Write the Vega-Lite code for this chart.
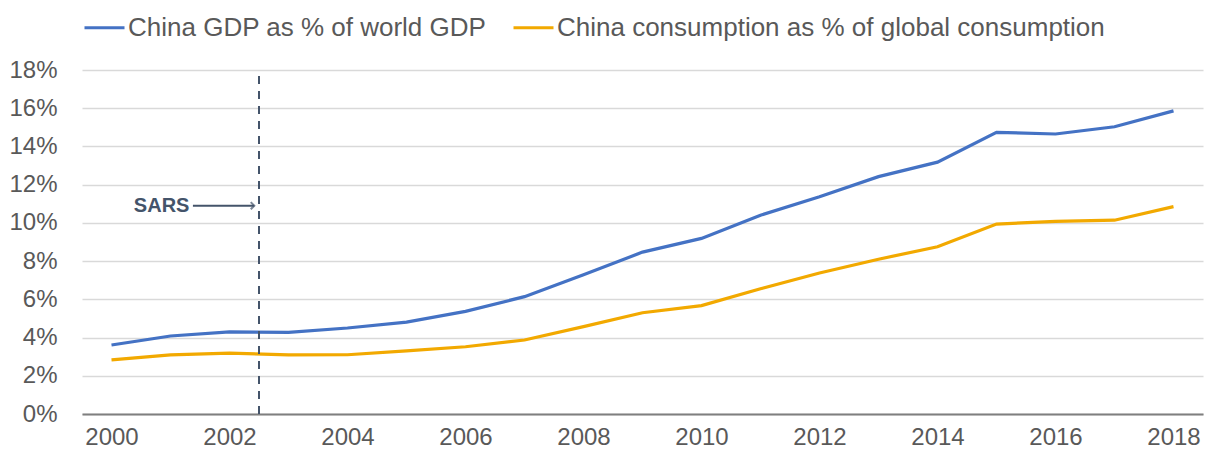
{
  "$schema": "https://vega.github.io/schema/vega-lite/v6.json",
  "width": 1121,
  "height": 344,
  "autosize": {"type": "none"},
  "padding": {"left": 82, "top": 70, "right": 11, "bottom": 44},
  "background": "white",
  "config": {
    "font": "Liberation Sans",
    "view": {"stroke": null}
  },
  "datasets": {
    "series": [
      {"year": 2000, "series": "China GDP as % of world GDP", "value": 3.61},
      {"year": 2001, "series": "China GDP as % of world GDP", "value": 4.08},
      {"year": 2002, "series": "China GDP as % of world GDP", "value": 4.3},
      {"year": 2003, "series": "China GDP as % of world GDP", "value": 4.27},
      {"year": 2004, "series": "China GDP as % of world GDP", "value": 4.5},
      {"year": 2005, "series": "China GDP as % of world GDP", "value": 4.81},
      {"year": 2006, "series": "China GDP as % of world GDP", "value": 5.37},
      {"year": 2007, "series": "China GDP as % of world GDP", "value": 6.14},
      {"year": 2008, "series": "China GDP as % of world GDP", "value": 7.28},
      {"year": 2009, "series": "China GDP as % of world GDP", "value": 8.47},
      {"year": 2010, "series": "China GDP as % of world GDP", "value": 9.19},
      {"year": 2011, "series": "China GDP as % of world GDP", "value": 10.4},
      {"year": 2012, "series": "China GDP as % of world GDP", "value": 11.37},
      {"year": 2013, "series": "China GDP as % of world GDP", "value": 12.42},
      {"year": 2014, "series": "China GDP as % of world GDP", "value": 13.18},
      {"year": 2015, "series": "China GDP as % of world GDP", "value": 14.74},
      {"year": 2016, "series": "China GDP as % of world GDP", "value": 14.65},
      {"year": 2017, "series": "China GDP as % of world GDP", "value": 15.03},
      {"year": 2018, "series": "China GDP as % of world GDP", "value": 15.86},
      {"year": 2000, "series": "China consumption as % of global consumption", "value": 2.83},
      {"year": 2001, "series": "China consumption as % of global consumption", "value": 3.09},
      {"year": 2002, "series": "China consumption as % of global consumption", "value": 3.19},
      {"year": 2003, "series": "China consumption as % of global consumption", "value": 3.09},
      {"year": 2004, "series": "China consumption as % of global consumption", "value": 3.1},
      {"year": 2005, "series": "China consumption as % of global consumption", "value": 3.3},
      {"year": 2006, "series": "China consumption as % of global consumption", "value": 3.52},
      {"year": 2007, "series": "China consumption as % of global consumption", "value": 3.87},
      {"year": 2008, "series": "China consumption as % of global consumption", "value": 4.57},
      {"year": 2009, "series": "China consumption as % of global consumption", "value": 5.3},
      {"year": 2010, "series": "China consumption as % of global consumption", "value": 5.67},
      {"year": 2011, "series": "China consumption as % of global consumption", "value": 6.55},
      {"year": 2012, "series": "China consumption as % of global consumption", "value": 7.38},
      {"year": 2013, "series": "China consumption as % of global consumption", "value": 8.1},
      {"year": 2014, "series": "China consumption as % of global consumption", "value": 8.75},
      {"year": 2015, "series": "China consumption as % of global consumption", "value": 9.94},
      {"year": 2016, "series": "China consumption as % of global consumption", "value": 10.08},
      {"year": 2017, "series": "China consumption as % of global consumption", "value": 10.14},
      {"year": 2018, "series": "China consumption as % of global consumption", "value": 10.85}
    ],
    "sars": [
      {"year": 2002.5, "value": 0, "value2": 18}
    ],
    "arrow": [
      {"year": 2001.38, "year2": 2002.42, "value": 10.9}
    ],
    "arrowhead": [
      {"year": 2002.42, "value": 10.9}
    ],
    "label": [
      {"year": 2000.85, "value": 10.9, "text": "SARS"}
    ]
  },
  "encoding": {
    "x": {
      "field": "year", "type": "quantitative",
      "scale": {"domain": [1999.5, 2018.5], "nice": false, "zero": false},
      "axis": {
        "title": null,
        "values": [2000, 2002, 2004, 2006, 2008, 2010, 2012, 2014, 2016, 2018],
        "format": "d",
        "grid": false,
        "ticks": false,
        "labelOverlap": false,
        "domainColor": "#7f7f7f",
        "domainWidth": 2,
        "labelFontSize": 24,
        "labelColor": "#595959",
        "labelPadding": 11
      }
    },
    "y": {
      "field": "value", "type": "quantitative",
      "scale": {"domain": [0, 18], "nice": false},
      "axis": {
        "title": null,
        "values": [0, 2, 4, 6, 8, 10, 12, 14, 16, 18],
        "tickCount": 10,
        "labelExpr": "datum.value + '%'",
        "labelOverlap": false,
        "labelBound": false,
        "domain": false,
        "ticks": false,
        "gridColor": "#d9d9d9",
        "gridWidth": 1.5,
        "labelFontSize": 24,
        "labelColor": "#595959",
        "labelPadding": 25
      }
    }
  },
  "layer": [
    {
      "data": {"name": "series"},
      "mark": {"type": "line", "strokeWidth": 3.2, "clip": true},
      "encoding": {
        "color": {
          "field": "series", "type": "nominal",
          "scale": {
            "domain": ["China GDP as % of world GDP", "China consumption as % of global consumption"],
            "range": ["#4472C4", "#F2A900"]
          },
          "legend": {
            "title": null,
            "orient": "none",
            "direction": "horizontal",
            "legendX": 1,
            "legendY": -64,
            "symbolType": "stroke",
            "symbolStrokeWidth": 3,
            "symbolSize": 1600,
            "labelFontSize": 26,
            "labelColor": "#595959",
            "labelOffset": 2,
            "columnPadding": 20,
            "labelLimit": 800
          }
        }
      }
    },
    {
      "data": {"name": "sars"},
      "mark": {"type": "rule", "color": "#44546A", "strokeWidth": 2, "strokeDash": [8, 7]},
      "encoding": {
        "y2": {"field": "value2"}
      }
    },
    {
      "data": {"name": "arrow"},
      "mark": {"type": "rule", "color": "#44546A", "strokeWidth": 2},
      "encoding": {
        "x2": {"field": "year2"}
      }
    },
    {
      "data": {"name": "arrowhead"},
      "mark": {"type": "point", "shape": "M-1,-1L0,0L-1,1", "filled": false, "stroke": "#44546A", "strokeWidth": 2, "size": 50},
      "encoding": {}
    },
    {
      "data": {"name": "label"},
      "mark": {"type": "text", "fontWeight": "bold", "fontSize": 20, "color": "#44546A", "align": "center", "baseline": "middle"},
      "encoding": {
        "text": {"field": "text"}
      }
    }
  ]
}
